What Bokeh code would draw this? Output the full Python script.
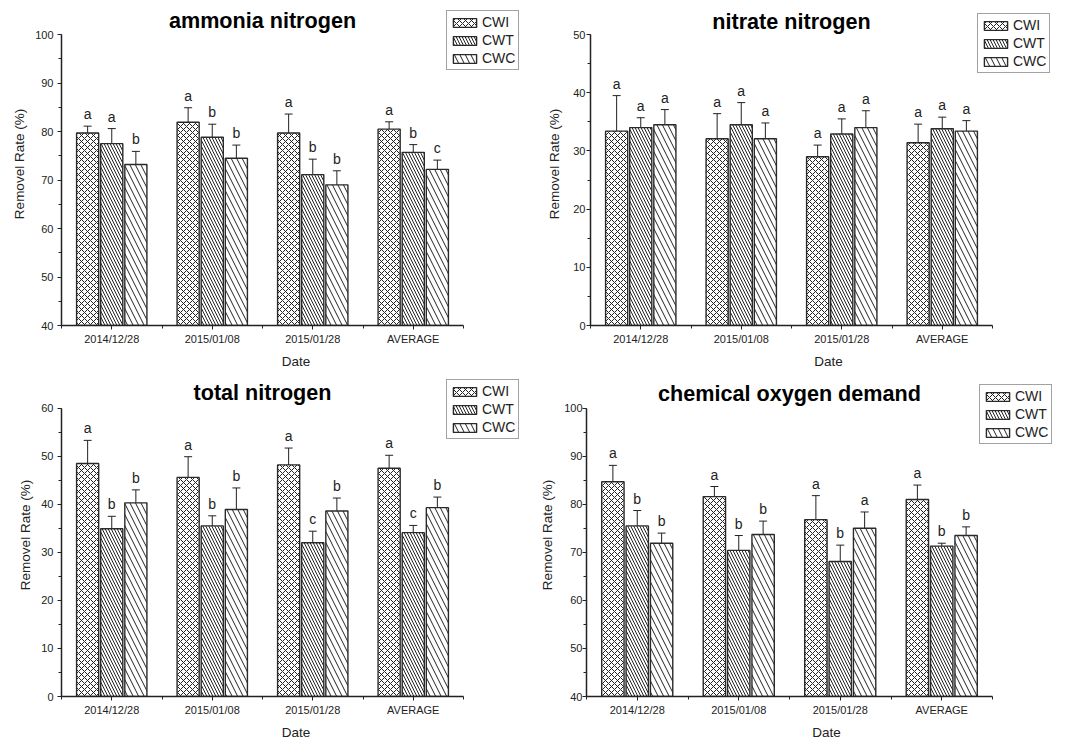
import numpy as np
from bokeh.plotting import figure
from bokeh.models import (Range1d, FixedTicker, ColumnDataSource, Whisker, TeeHead,
                          Legend, LegendItem, Label)
from bokeh.layouts import column, row
from bokeh.embed import file_html
from bokeh.resources import INLINE
from bokeh.core.properties import value

dates = ["2014/12/28", "2015/01/08", "2015/01/28", "AVERAGE"]
series = ["CWI", "CWT", "CWC"]

# ammonia nitrogen
nh_cwi = [79.7, 81.9, 79.7, 80.5]
nh_cwt = [77.5, 78.8, 71.1, 75.7]
nh_cwc = [73.2, 74.5, 69.0, 72.2]
nh_cwi_err = [1.4, 3.0, 3.9, 1.5]
nh_cwt_err = [3.1, 2.7, 3.2, 1.6]
nh_cwc_err = [2.7, 2.7, 2.9, 1.9]
nh_cwi_sig = ["a", "a", "a", "a"]
nh_cwt_sig = ["a", "b", "b", "b"]
nh_cwc_sig = ["b", "b", "b", "c"]

# nitrate nitrogen
no_cwi = [33.4, 32.1, 29.0, 31.4]
no_cwt = [34.0, 34.5, 32.9, 33.8]
no_cwc = [34.5, 32.1, 34.0, 33.4]
no_cwi_err = [6.1, 4.3, 2.0, 3.2]
no_cwt_err = [1.7, 3.8, 2.6, 2.0]
no_cwc_err = [2.6, 2.7, 2.9, 1.8]
no_cwi_sig = ["a", "a", "a", "a"]
no_cwt_sig = ["a", "a", "a", "a"]
no_cwc_sig = ["a", "a", "a", "a"]

# total nitrogen
tn_cwi = [48.5, 45.6, 48.2, 47.5]
tn_cwt = [34.9, 35.5, 32.0, 34.1]
tn_cwc = [40.3, 38.9, 38.6, 39.3]
tn_cwi_err = [4.8, 4.3, 3.5, 2.7]
tn_cwt_err = [2.6, 2.1, 2.4, 1.5]
tn_cwc_err = [2.7, 4.5, 2.7, 2.2]
tn_cwi_sig = ["a", "a", "a", "a"]
tn_cwt_sig = ["b", "b", "c", "c"]
tn_cwc_sig = ["b", "b", "b", "b"]

# chemical oxygen demand
cod_cwi = [84.7, 81.6, 76.8, 81.0]
cod_cwt = [75.5, 70.4, 68.1, 71.3]
cod_cwc = [71.9, 73.7, 75.0, 73.5]
cod_cwi_err = [3.4, 2.1, 5.0, 3.0]
cod_cwt_err = [3.2, 3.1, 3.4, 0.6]
cod_cwc_err = [2.1, 2.8, 3.4, 1.8]
cod_cwi_sig = ["a", "a", "a", "a"]
cod_cwt_sig = ["b", "b", "b", "b"]
cod_cwc_sig = ["b", "b", "a", "b"]

FONT = "Liberation Sans"
OFFSETS = [-0.24, 0.0, 0.24]
BAR_W = 0.22
HATCH = [("diagonal_cross", 6), ("left_diagonal_line", 6), ("left_diagonal_line", 11)]
W, H = 536, 371
FRAME_TOP = 2
FRAME_RIGHT = 530


def panel(title, ylo, yhi, vals, errs, sigs, ax_left, ax_right, ax_top, ax_bottom,
          title_base, tick_std, lab_std, leg_left, leg_top):
    n = len(dates)
    span_px = ax_bottom - ax_top
    y_end = ylo + (ax_bottom - FRAME_TOP) / span_px * (yhi - ylo)
    x_end = n * (FRAME_RIGHT - ax_left) / (ax_right - ax_left)
    p = figure(width=W, height=H, output_backend="svg", toolbar_location=None,
               title=None, x_range=Range1d(0, x_end), y_range=Range1d(ylo, y_end),
               min_border_left=ax_left, min_border_right=W - FRAME_RIGHT,
               min_border_top=FRAME_TOP, min_border_bottom=H - ax_bottom)
    p.outline_line_color = None
    p.xgrid.visible = False
    p.ygrid.visible = False
    p.background_fill_color = "white"
    p.border_fill_color = "white"

    ty = ylo + (ax_bottom - title_base) / span_px * (yhi - ylo)
    p.add_layout(Label(x=n / 2, y=ty, text=title, text_align="center",
                       text_baseline="alphabetic", text_font=FONT,
                       text_font_size="21.6px", text_font_style="bold",
                       text_color="black"))

    items = []
    for k, s in enumerate(series):
        xs = np.arange(n) + 0.5 + OFFSETS[k]
        v = np.array(vals[k])
        e = np.array(errs[k])
        src = ColumnDataSource(dict(x=xs, top=v, upper=v + e, lower=v - e, sig=sigs[k]))
        pat, sc = HATCH[k]
        r = p.vbar(x="x", top="top", bottom=ylo, width=BAR_W, source=src,
                   fill_color="white", line_color="#2a2a2a", line_width=1.4,
                   hatch_pattern=pat, hatch_scale=sc, hatch_color="#222222",
                   hatch_weight=1.0)
        items.append(LegendItem(label=s, renderers=[r]))
        wh = Whisker(source=src, base="x", upper="upper", lower="lower",
                     line_color="#222222", line_width=1.0,
                     upper_head=TeeHead(size=8, line_color="#222222", line_width=1.0),
                     lower_head=TeeHead(size=8, line_color="#222222", line_width=1.0))
        p.add_layout(wh)
        p.text(x="x", y="upper", text="sig", source=src, text_align="center",
               text_baseline="bottom", y_offset=-4, text_font=value(FONT),
               text_font_size="14px", text_color="#222222")

    leg_h = 58
    leg = Legend(items=items,
                 location=(leg_left - ax_left, (ax_bottom - leg_top) - leg_h),
                 orientation="vertical",
                 border_line_color="#444444", border_line_width=1,
                 background_fill_color="white", background_fill_alpha=1.0,
                 padding=3, spacing=2, margin=0, glyph_width=29, glyph_height=11,
                 label_standoff=3, label_height=14, label_text_font=FONT,
                 label_text_font_size="14px", label_text_color="#222222")
    p.add_layout(leg)

    xa = p.xaxis[0]
    xa.bounds = (0, n)
    xa.ticker = FixedTicker(ticks=[i + 0.5 for i in range(n)],
                            minor_ticks=list(range(n + 1)))
    xa.major_label_overrides = {i + 0.5: d for i, d in enumerate(dates)}
    xa.axis_label = "Date"
    ya = p.yaxis[0]
    ya.bounds = (ylo, yhi)
    ya.ticker = FixedTicker(ticks=list(range(ylo, yhi + 1, 10)),
                            minor_ticks=list(range(ylo, yhi + 1, 5)))
    ya.axis_label = "Removel Rate (%)"
    for ax in (xa, ya):
        ax.axis_line_color = "#222222"
        ax.axis_line_width = 1.5
        ax.major_tick_line_color = "#222222"
        ax.minor_tick_line_color = "#222222"
        ax.major_tick_in = 0
        ax.major_tick_out = 4
        ax.minor_tick_in = 0
        ax.minor_tick_out = 3
        ax.major_label_text_font = FONT
        ax.major_label_text_font_size = "11px"
        ax.major_label_text_color = "#222222"
        ax.axis_label_text_font = FONT
        ax.axis_label_text_font_size = "13.5px"
        ax.axis_label_text_font_style = "normal"
        ax.axis_label_text_color = "#222222"
    xa.major_label_standoff = 3
    xa.axis_label_standoff = 6
    ya.major_label_standoff = tick_std
    ya.axis_label_standoff = lab_std
    return p


p1 = panel("ammonia nitrogen", 40, 100, [nh_cwi, nh_cwt, nh_cwc],
           [nh_cwi_err, nh_cwt_err, nh_cwc_err], [nh_cwi_sig, nh_cwt_sig, nh_cwc_sig],
           61, 463, 34, 325, 20, 4, 5, 446, 12)
p2 = panel("nitrate nitrogen", 0, 50, [no_cwi, no_cwt, no_cwc],
           [no_cwi_err, no_cwt_err, no_cwc_err], [no_cwi_sig, no_cwt_sig, no_cwc_sig],
           54, 456, 34, 325, 21, 1, 8, 441, 15)
p3 = panel("total nitrogen", 0, 60, [tn_cwi, tn_cwt, tn_cwc],
           [tn_cwi_err, tn_cwt_err, tn_cwc_err], [tn_cwi_sig, tn_cwt_sig, tn_cwc_sig],
           61, 463, 37, 328, 21, 4, 5, 446, 13)
p4 = panel("chemical oxygen demand", 40, 100, [cod_cwi, cod_cwt, cod_cwc],
           [cod_cwi_err, cod_cwt_err, cod_cwc_err], [cod_cwi_sig, cod_cwt_sig, cod_cwc_sig],
           50, 456, 37, 328, 22, 0, 6, 443, 18)

layout = column(row(p1, p2), row(p3, p4))
open("out.html", "w").write(file_html(layout, INLINE))
